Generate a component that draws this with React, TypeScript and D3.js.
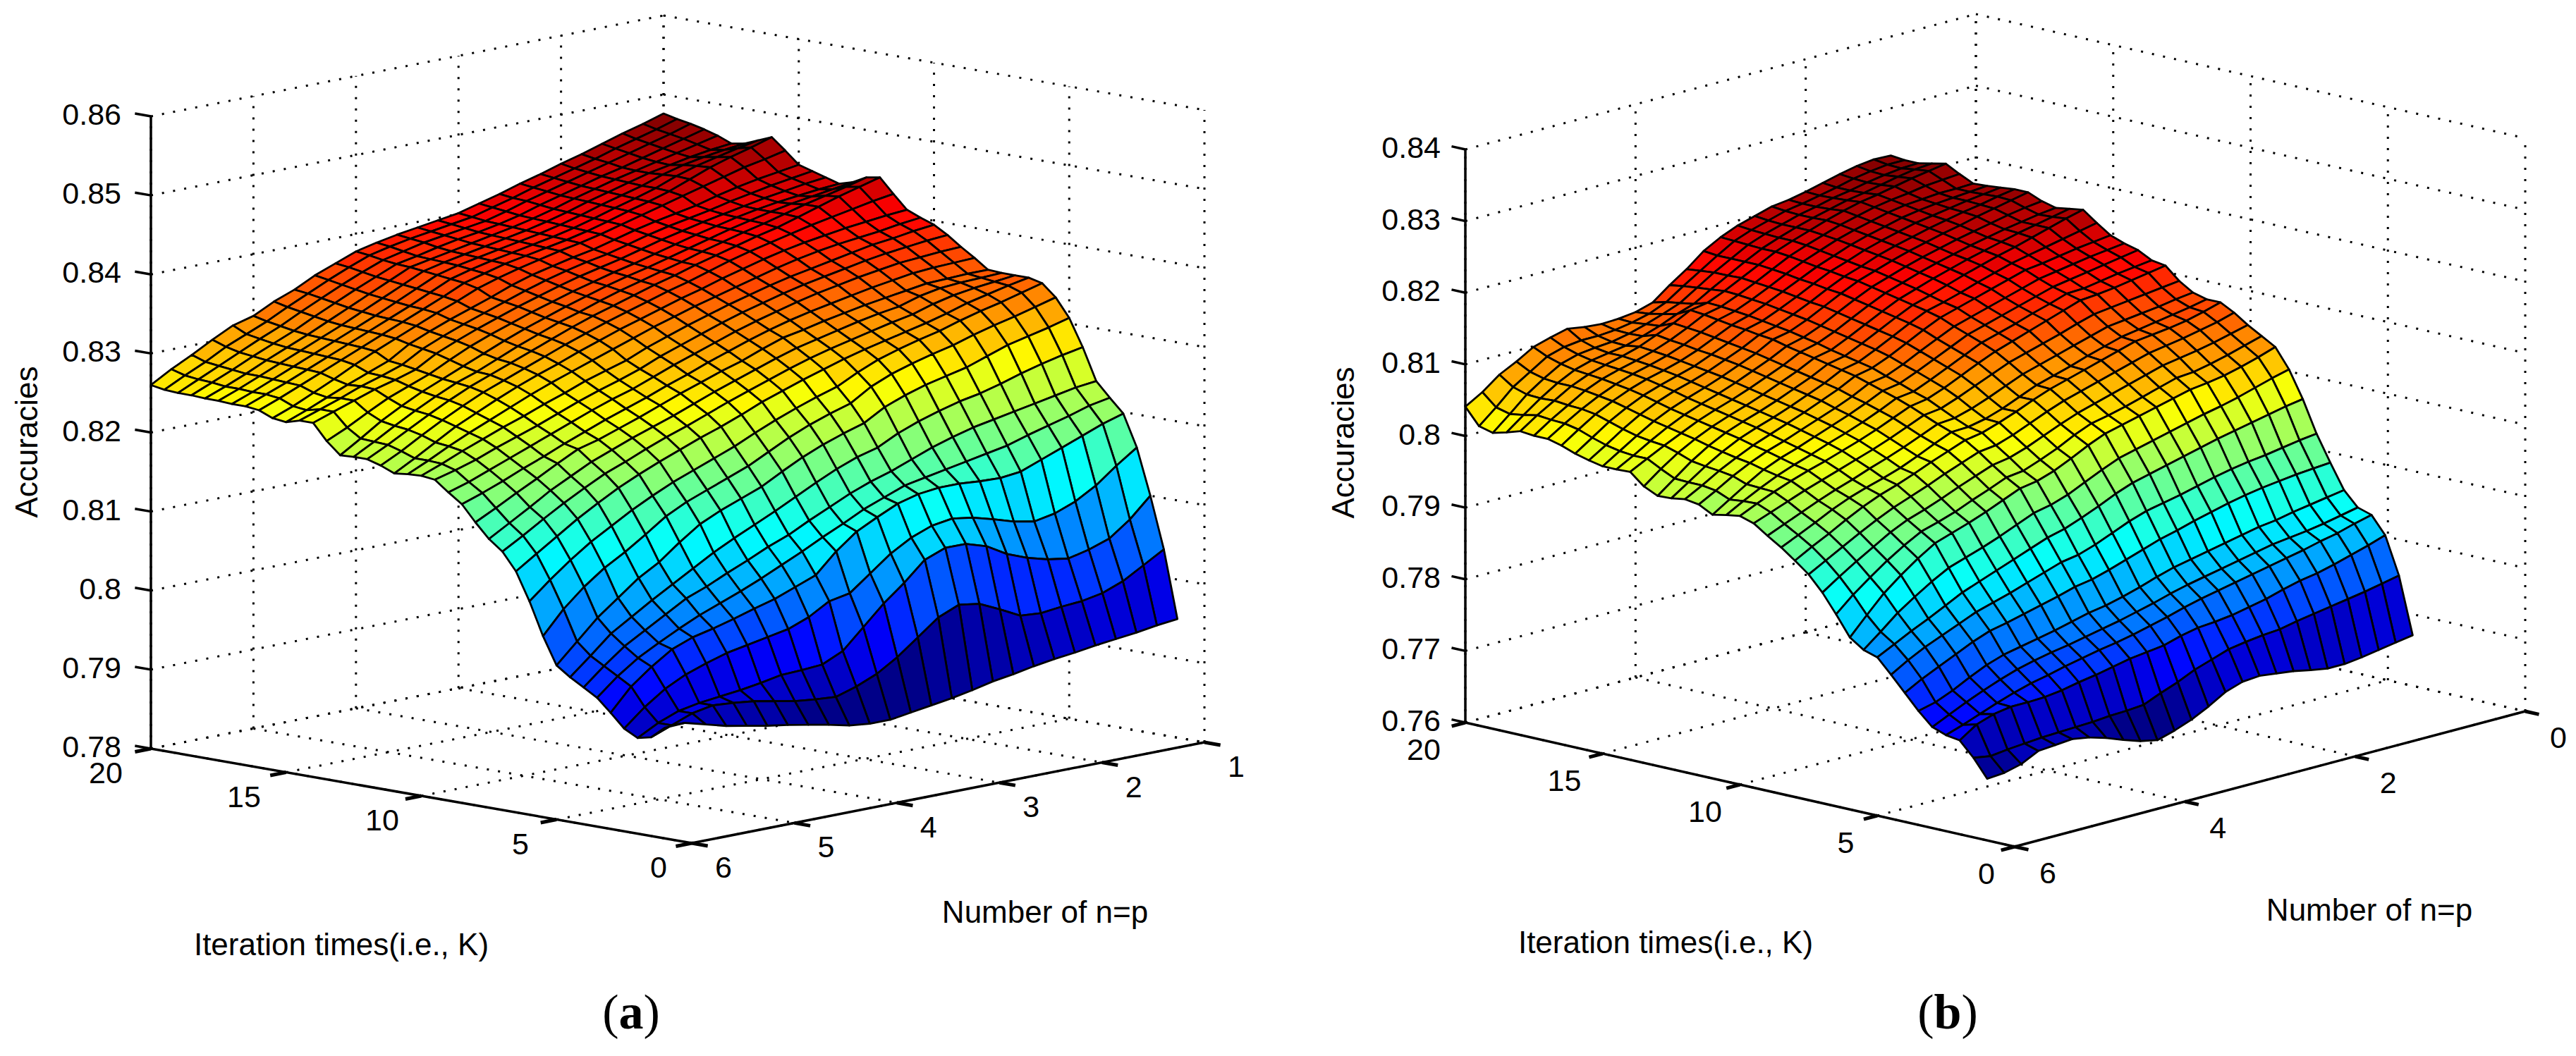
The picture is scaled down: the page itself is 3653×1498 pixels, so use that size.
import React from 'react';
import * as d3 from 'd3';

// rows run K = 20 down to K = 1 in steps of 0.5, columns n = 1 up to n = 6 in steps of 0.2
// values are accuracies x 10000
const accuracyA = [
  [8476,8468,8461,8453,8445,8438,8430,8423,8415,8408,8401,8397,8393,8389,8384,8378,8368,8358,8345,8335,8322,8315,8302,8288,8275,8260],
  [8472,8464,8457,8450,8442,8435,8428,8421,8413,8406,8399,8395,8391,8387,8382,8376,8366,8355,8343,8331,8318,8307,8296,8282,8270,8257],
  [8469,8461,8454,8447,8440,8433,8426,8419,8412,8404,8397,8393,8389,8385,8379,8373,8363,8352,8340,8328,8315,8304,8292,8280,8268,8256],
  [8465,8458,8451,8444,8437,8431,8424,8417,8410,8402,8396,8391,8387,8382,8376,8371,8360,8349,8337,8325,8312,8301,8290,8278,8267,8256],
  [8460,8454,8448,8442,8436,8430,8423,8416,8408,8401,8395,8390,8385,8380,8375,8370,8358,8346,8334,8322,8310,8299,8288,8276,8265,8255],
  [8453,8450,8446,8441,8436,8429,8422,8415,8407,8400,8394,8389,8384,8379,8374,8368,8356,8344,8332,8320,8309,8298,8287,8276,8265,8255],
  [8456,8453,8449,8444,8437,8428,8421,8414,8406,8399,8393,8388,8383,8378,8373,8366,8354,8342,8330,8319,8308,8297,8286,8275,8264,8254],
  [8463,8458,8452,8446,8438,8428,8420,8413,8405,8398,8392,8387,8382,8377,8371,8364,8352,8340,8329,8318,8307,8296,8285,8274,8264,8254],
  [8470,8462,8455,8447,8437,8427,8419,8412,8404,8397,8391,8386,8381,8376,8369,8362,8350,8339,8328,8317,8306,8295,8284,8273,8262,8252],
  [8456,8450,8445,8438,8431,8424,8417,8410,8403,8396,8390,8385,8379,8373,8366,8358,8347,8337,8326,8315,8304,8292,8279,8267,8255,8245],
  [8441,8437,8433,8428,8422,8415,8410,8405,8399,8392,8385,8380,8374,8368,8360,8350,8341,8332,8322,8311,8295,8285,8275,8264,8253,8243],
  [8436,8432,8428,8423,8418,8412,8407,8402,8396,8389,8382,8377,8371,8364,8356,8347,8338,8329,8319,8308,8293,8284,8276,8266,8257,8248],
  [8431,8428,8424,8420,8415,8410,8405,8399,8393,8386,8379,8373,8367,8360,8352,8344,8335,8326,8316,8305,8290,8282,8275,8266,8257,8248],
  [8426,8424,8421,8418,8414,8409,8403,8397,8390,8383,8376,8370,8363,8356,8348,8340,8331,8322,8312,8300,8287,8277,8267,8254,8240,8228],
  [8431,8427,8423,8419,8414,8408,8402,8395,8388,8381,8374,8368,8361,8353,8345,8336,8327,8317,8306,8295,8284,8273,8260,8246,8229,8213],
  [8440,8433,8427,8421,8414,8407,8401,8394,8387,8379,8372,8365,8358,8350,8341,8333,8323,8313,8302,8291,8282,8270,8257,8243,8228,8214],
  [8443,8436,8429,8421,8413,8405,8399,8392,8385,8378,8370,8363,8355,8347,8339,8330,8320,8310,8300,8290,8280,8268,8255,8241,8227,8214],
  [8425,8421,8416,8411,8406,8400,8394,8388,8381,8373,8365,8358,8350,8342,8334,8325,8316,8306,8296,8286,8276,8264,8251,8237,8222,8209],
  [8408,8406,8403,8400,8396,8392,8387,8381,8374,8367,8359,8352,8344,8336,8328,8319,8310,8300,8291,8281,8270,8258,8246,8231,8216,8202],
  [8401,8398,8394,8391,8388,8384,8379,8373,8366,8359,8352,8345,8337,8329,8320,8311,8302,8293,8284,8274,8263,8252,8241,8229,8216,8204],
  [8395,8392,8388,8385,8380,8375,8370,8365,8359,8352,8345,8337,8329,8320,8311,8300,8292,8284,8274,8265,8255,8246,8236,8226,8215,8205],
  [8385,8383,8380,8377,8373,8368,8363,8358,8352,8345,8338,8330,8321,8312,8303,8292,8283,8275,8266,8256,8246,8237,8228,8218,8210,8203],
  [8373,8372,8370,8368,8364,8360,8355,8350,8344,8337,8330,8322,8313,8304,8295,8285,8275,8267,8258,8248,8238,8228,8218,8208,8198,8190],
  [8362,8361,8360,8358,8354,8350,8345,8340,8335,8329,8322,8314,8305,8296,8286,8277,8267,8258,8249,8239,8229,8218,8208,8197,8187,8178],
  [8350,8350,8349,8348,8344,8340,8336,8331,8326,8320,8315,8306,8296,8288,8279,8270,8260,8250,8241,8232,8225,8212,8198,8185,8171,8158],
  [8349,8348,8347,8345,8340,8332,8328,8323,8317,8311,8305,8297,8288,8279,8270,8260,8250,8241,8232,8222,8212,8199,8186,8170,8155,8140],
  [8349,8346,8343,8339,8333,8325,8320,8314,8308,8302,8295,8287,8278,8269,8260,8250,8240,8231,8221,8210,8200,8187,8173,8158,8142,8127],
  [8349,8344,8338,8332,8324,8317,8311,8305,8299,8292,8284,8276,8267,8258,8247,8237,8228,8218,8208,8197,8185,8171,8156,8139,8122,8105],
  [8345,8338,8331,8325,8318,8310,8304,8297,8289,8278,8265,8257,8248,8238,8227,8215,8205,8195,8185,8173,8160,8145,8130,8112,8092,8070],
  [8330,8323,8316,8310,8303,8295,8289,8282,8274,8263,8247,8239,8230,8219,8206,8193,8183,8173,8163,8150,8132,8115,8100,8081,8058,8029],
  [8307,8300,8294,8288,8279,8270,8264,8258,8250,8240,8225,8217,8208,8197,8184,8170,8160,8150,8138,8120,8100,8085,8065,8045,8020,7995],
  [8273,8268,8262,8255,8247,8240,8235,8228,8220,8210,8197,8190,8180,8168,8155,8142,8130,8118,8105,8090,8075,8060,8044,8028,8005,7983],
  [8233,8230,8225,8220,8215,8210,8205,8198,8190,8180,8170,8162,8152,8140,8128,8115,8105,8093,8082,8070,8060,8045,8030,8015,7995,7973],
  [8215,8210,8202,8195,8188,8180,8175,8170,8165,8160,8155,8145,8135,8122,8110,8097,8085,8073,8062,8052,8042,8030,8017,8003,7985,7963],
  [8198,8190,8180,8170,8160,8150,8147,8148,8150,8150,8147,8140,8128,8115,8095,8070,8060,8050,8043,8035,8028,8022,8012,7995,7975,7947],
  [8158,8140,8120,8105,8095,8090,8095,8103,8110,8114,8110,8100,8085,8065,8045,8040,8025,8015,8010,8005,8000,7992,7983,7970,7952,7930],
  [8100,8075,8056,8047,8041,8045,8052,8062,8077,8085,8085,8075,8051,8030,8005,7980,7968,7966,7965,7960,7956,7953,7950,7945,7935,7921],
  [8035,8020,8005,7995,7990,7988,7985,7987,8000,8012,8016,8005,7985,7965,7949,7938,7930,7932,7935,7940,7945,7948,7950,7945,7935,7925],
  [7950,7947,7943,7940,7937,7933,7930,7926,7921,7917,7911,7906,7902,7898,7894,7894,7897,7903,7908,7913,7917,7922,7927,7934,7941,7940],
];

const accuracyB = [
  [8234,8235,8232,8227,8221,8215,8210,8207,8200,8193,8183,8170,8151,8135,8117,8110,8107,8106,8108,8112,8106,8099,8085,8073,8055,8041],
  [8232,8232,8229,8225,8219,8214,8209,8205,8198,8191,8182,8168,8153,8138,8122,8112,8106,8102,8100,8100,8097,8090,8075,8060,8038,8018],
  [8232,8231,8228,8224,8219,8215,8209,8204,8197,8190,8181,8168,8155,8140,8125,8116,8108,8101,8096,8094,8091,8084,8070,8054,8033,8013],
  [8236,8234,8230,8225,8220,8216,8210,8204,8197,8189,8180,8168,8155,8142,8128,8120,8110,8102,8095,8091,8087,8080,8068,8053,8036,8018],
  [8240,8236,8232,8227,8222,8218,8212,8205,8197,8189,8180,8168,8156,8144,8134,8130,8118,8108,8098,8091,8085,8078,8068,8054,8040,8024],
  [8230,8228,8226,8222,8219,8215,8209,8203,8195,8187,8178,8166,8154,8143,8133,8128,8116,8105,8096,8089,8083,8076,8066,8052,8038,8022],
  [8221,8220,8220,8218,8216,8212,8206,8200,8193,8184,8175,8164,8152,8141,8131,8125,8114,8103,8094,8087,8081,8073,8063,8051,8037,8022],
  [8222,8220,8218,8216,8213,8209,8203,8197,8190,8181,8172,8161,8150,8139,8129,8122,8111,8100,8091,8084,8078,8070,8060,8048,8033,8017],
  [8224,8221,8218,8214,8210,8206,8200,8194,8187,8178,8170,8159,8147,8136,8126,8120,8108,8098,8088,8081,8074,8066,8055,8042,8026,8010],
  [8226,8222,8217,8213,8208,8203,8197,8191,8184,8175,8167,8156,8144,8133,8123,8117,8105,8095,8085,8077,8070,8061,8050,8036,8020,8005],
  [8226,8221,8216,8211,8205,8200,8194,8188,8181,8173,8165,8154,8142,8130,8120,8115,8102,8092,8082,8073,8065,8056,8045,8031,8016,8001],
  [8218,8215,8211,8206,8201,8196,8190,8184,8177,8169,8161,8150,8138,8126,8116,8110,8098,8088,8078,8069,8061,8052,8041,8028,8014,8001],
  [8213,8210,8206,8202,8197,8192,8186,8180,8173,8165,8157,8146,8134,8122,8112,8106,8094,8084,8074,8065,8057,8048,8037,8026,8014,8002],
  [8216,8211,8206,8201,8195,8189,8183,8176,8169,8161,8153,8142,8130,8118,8107,8102,8090,8080,8070,8061,8053,8044,8033,8020,8004,7986],
  [8219,8213,8206,8199,8192,8186,8179,8172,8164,8156,8149,8138,8126,8114,8103,8098,8086,8076,8066,8057,8049,8040,8028,8013,7995,7977],
  [8205,8200,8195,8190,8185,8180,8173,8166,8158,8151,8145,8134,8122,8110,8099,8094,8082,8072,8062,8053,8045,8036,8024,8010,7994,7978],
  [8192,8189,8186,8182,8178,8175,8168,8161,8154,8147,8140,8129,8117,8105,8095,8090,8078,8068,8058,8049,8040,8031,8020,8008,7994,7981],
  [8185,8182,8179,8175,8171,8167,8160,8153,8146,8139,8132,8121,8110,8098,8088,8084,8072,8062,8053,8044,8035,8027,8017,8005,7991,7978],
  [8180,8176,8172,8168,8164,8160,8153,8146,8139,8132,8125,8114,8103,8092,8082,8078,8067,8057,8048,8039,8030,8022,8012,7998,7983,7968],
  [8170,8167,8164,8160,8156,8155,8147,8140,8132,8125,8118,8107,8096,8085,8075,8072,8061,8051,8042,8034,8025,8017,8008,7997,7985,7972],
  [8167,8163,8159,8155,8152,8150,8142,8134,8126,8118,8110,8100,8089,8078,8069,8065,8055,8045,8036,8028,8020,8013,8005,7996,7986,7975],
  [8150,8147,8144,8141,8138,8135,8128,8120,8113,8106,8099,8089,8079,8069,8060,8057,8047,8037,8028,8020,8012,8004,7996,7987,7978,7969],
  [8138,8135,8131,8128,8125,8122,8115,8108,8101,8094,8087,8077,8067,8058,8051,8049,8039,8029,8020,8012,8003,7995,7986,7976,7966,7956],
  [8133,8128,8124,8120,8116,8112,8105,8098,8090,8083,8076,8066,8056,8048,8043,8042,8032,8021,8011,8003,7996,7988,7978,7966,7955,7944],
  [8133,8126,8120,8116,8113,8110,8103,8096,8089,8082,8075,8066,8056,8047,8039,8035,8026,8017,8007,7998,7990,7980,7968,7955,7943,7930],
  [8123,8116,8111,8106,8102,8098,8091,8084,8077,8070,8063,8054,8044,8034,8026,8023,8014,8005,7995,7986,7977,7966,7954,7941,7928,7915],
  [8110,8104,8098,8093,8089,8085,8078,8071,8064,8057,8050,8041,8031,8021,8013,8009,8000,7991,7981,7972,7964,7953,7939,7925,7910,7894],
  [8099,8092,8085,8079,8074,8072,8065,8058,8051,8045,8040,8030,8018,8008,7999,7996,7986,7977,7967,7959,7952,7939,7924,7907,7889,7868],
  [8088,8080,8073,8067,8063,8060,8054,8048,8042,8036,8030,8020,8008,7997,7989,7985,7975,7965,7956,7948,7940,7925,7908,7889,7865,7840],
  [8061,8055,8048,8041,8035,8030,8024,8018,8012,8006,8000,7990,7979,7968,7960,7955,7945,7935,7926,7918,7910,7897,7882,7866,7846,7827],
  [8024,8020,8015,8010,8005,8000,7994,7988,7982,7976,7970,7961,7950,7940,7931,7925,7916,7907,7898,7889,7880,7868,7856,7845,7833,7821],
  [7980,7977,7973,7969,7966,7962,7957,7951,7945,7940,7935,7927,7917,7907,7899,7895,7887,7879,7871,7864,7857,7847,7837,7827,7815,7801],
  [7944,7942,7940,7937,7934,7930,7925,7919,7913,7906,7900,7892,7884,7876,7869,7865,7858,7852,7846,7840,7835,7826,7815,7804,7793,7780],
  [7910,7906,7902,7898,7893,7890,7885,7880,7875,7870,7865,7858,7850,7843,7837,7833,7827,7821,7816,7811,7806,7798,7787,7775,7765,7759],
  [7890,7885,7880,7876,7873,7870,7865,7860,7855,7850,7845,7839,7832,7826,7820,7815,7810,7805,7801,7796,7790,7782,7773,7763,7752,7741],
  [7884,7878,7871,7866,7860,7855,7850,7845,7840,7835,7830,7824,7817,7811,7805,7800,7796,7791,7786,7780,7775,7768,7760,7751,7742,7734],
  [7860,7852,7845,7838,7832,7828,7822,7815,7810,7805,7802,7800,7795,7788,7785,7782,7777,7772,7768,7763,7760,7759,7759,7755,7747,7731],
  [7808,7803,7798,7794,7790,7786,7782,7777,7775,7772,7768,7760,7752,7741,7732,7722,7720,7719,7717,7716,7715,7714,7712,7710,7707,7711],
  [7729,7725,7721,7717,7714,7714,7718,7723,7726,7729,7727,7719,7705,7693,7684,7677,7682,7690,7699,7706,7710,7708,7706,7694,7688,7686],
];

const iterTicks = [20, 15, 10, 5, 0];
const zTicksA = [0.78, 0.79, 0.8, 0.81, 0.82, 0.83, 0.84, 0.85, 0.86];
const zTicksB = [0.76, 0.77, 0.78, 0.79, 0.8, 0.81, 0.82, 0.83, 0.84];
const nTicksA = [6, 5, 4, 3, 2, 1];
const nTicksB = [6, 4, 2, 0];

const jetStops = ['#000080', '#0000ff', '#00ffff', '#ffff00', '#ff0000', '#800000'];
const jetDomain = [0, 0.125, 0.375, 0.625, 0.875, 1];

const FONT = '"Liberation Sans", Arial, sans-serif';

const jet = d3.scaleLinear<string>().domain(jetDomain).range(jetStops).interpolate(d3.interpolateRgb);
const jetLevels = d3.range(64).map(i => jet((i + 0.5) / 64));

const Surface = ({ values, zTicks, nTicks, left, front, right, top, labelK, labelN, zLabelX, tickLen }: any) => {
  const [zMin, zMax] = d3.extent(zTicks) as number[];
  const [nMin, nMax] = d3.extent(nTicks) as number[];

  const kx = d3.scaleLinear().domain([20, 0]).range([0, front[0] - left[0]]);
  const ky = d3.scaleLinear().domain([20, 0]).range([0, front[1] - left[1]]);
  const nx = d3.scaleLinear().domain([nMax, nMin]).range([0, right[0] - front[0]]);
  const ny = d3.scaleLinear().domain([nMax, nMin]).range([0, right[1] - front[1]]);
  const zy = d3.scaleLinear().domain([zMin, zMax]).range([0, top - left[1]]);

  const project = (k: number, n: number, z: number): [number, number] => [
    left[0] + kx(k) + nx(n),
    left[1] + ky(k) + ny(n) + zy(z),
  ];
  const line = d3.line();
  const seg = (a: [number, number], b: [number, number]) => line([a, b]) as string;

  const flat: number[] = values.flat();
  const color = d3.scaleQuantize<string>().domain(d3.extent(flat) as [number, number]).range(jetLevels);

  const kGrid = values.map((_: number[], i: number) => 20 - i * 0.5);
  const nGrid = values[0].map((_: number, j: number) => 1 + j * 0.2);

  // back to front so nearer cells cover the ones behind them
  const cells: { d: string; fill: string }[] = [];
  for (let i = 0; i < values.length - 1; i++) {
    for (let j = 0; j < nGrid.length - 1; j++) {
      const pts: [number, number][] = [
        project(kGrid[i], nGrid[j], values[i][j] / 1e4),
        project(kGrid[i], nGrid[j + 1], values[i][j + 1] / 1e4),
        project(kGrid[i + 1], nGrid[j + 1], values[i + 1][j + 1] / 1e4),
        project(kGrid[i + 1], nGrid[j], values[i + 1][j] / 1e4),
      ];
      cells.push({ d: (line(pts) as string) + 'Z', fill: color(values[i + 1][j]) });
    }
  }

  const gridLines: string[] = [];
  zTicks.forEach((z: number) => {
    gridLines.push(seg(project(20, nMax, z), project(20, nMin, z)));
    gridLines.push(seg(project(20, nMin, z), project(0, nMin, z)));
  });
  nTicks.forEach((n: number) => {
    gridLines.push(seg(project(20, n, zMin), project(20, n, zMax)));
    gridLines.push(seg(project(20, n, zMin), project(0, n, zMin)));
  });
  iterTicks.forEach(k => {
    gridLines.push(seg(project(k, nMin, zMin), project(k, nMin, zMax)));
    gridLines.push(seg(project(k, nMax, zMin), project(k, nMin, zMin)));
  });

  // tick directions follow the box edges, pointing away from the plot
  const kLen = Math.hypot(kx(0), ky(0));
  const nLen = Math.hypot(nx(nMin), ny(nMin));
  const kDir = [kx(0) / kLen, ky(0) / kLen];
  const nDir = [nx(nMin) / nLen, ny(nMin) / nLen];

  return (
    <g>
      <g fill="none" stroke="#000" strokeWidth={3} strokeDasharray="3 13">
        {gridLines.map((d, i) => <path key={i} d={d} />)}
      </g>
      <g stroke="#000" strokeWidth={2.8} strokeLinejoin="round">
        {cells.map((c, i) => <path key={i} d={c.d} fill={c.fill} />)}
      </g>
      <g fill="none" stroke="#000" strokeWidth={3.5}>
        <path d={seg(project(20, nMax, zMin), project(20, nMax, zMax))} />
        <path d={seg(project(20, nMax, zMin), project(0, nMax, zMin))} />
        <path d={seg(project(0, nMax, zMin), project(0, nMin, zMin))} />
        {zTicks.map((z: number) => {
          const p = project(20, nMax, z);
          return <path key={z} d={seg(p, [p[0] - kDir[0] * tickLen, p[1] - kDir[1] * tickLen])} />;
        })}
        {iterTicks.map(k => {
          const p = project(k, nMax, zMin);
          return <path key={k} strokeWidth={5} d={seg(p, [p[0] - nDir[0] * tickLen, p[1] - nDir[1] * tickLen])} />;
        })}
        {nTicks.map((n: number) => {
          const p = project(0, n, zMin);
          return <path key={n} strokeWidth={5} d={seg(p, [p[0] + kDir[0] * tickLen, p[1] + kDir[1] * tickLen])} />;
        })}
      </g>
      <g fontFamily={FONT} fontSize={43} fill="#000" dominantBaseline="central">
        {zTicks.map((z: number) => (
          <text key={z} x={zLabelX} y={project(20, nMax, z)[1] - 3} textAnchor="end">{String(z)}</text>
        ))}
        {iterTicks.map(k => {
          const p = project(k, nMax, zMin);
          return <text key={k} x={p[0] + labelK[0] - labelK[2] * (k / 20)} y={p[1] + labelK[1]} textAnchor="middle">{k}</text>;
        })}
        {nTicks.map((n: number) => {
          const p = project(0, n, zMin);
          return <text key={n} x={p[0] + labelN[0]} y={p[1] + labelN[1]} textAnchor="middle">{n}</text>;
        })}
      </g>
    </g>
  );
};

const AxisTitles = ({ acc, iter, num, panel, name }: any) => (
  <g fontFamily={FONT} fontSize={44} fill="#000" dominantBaseline="central" textAnchor="middle">
    <text transform={`translate(${acc[0]},${acc[1]}) rotate(-90)`}>Accuracies</text>
    <text x={iter[0]} y={iter[1]}>Iteration times(i.e., K)</text>
    <text x={num[0]} y={num[1]}>Number of n=p</text>
    <text x={panel[0]} y={panel[1]} fontFamily='"Liberation Serif", serif' fontSize={70}>
      (<tspan fontWeight="bold">{name}</tspan>)
    </text>
  </g>
);

export default function App() {
  return (
    <svg
      width={3653}
      height={1498}
      viewBox="0 0 3653 1498"
      style={{ position: 'absolute', left: 0, top: 0, background: '#fff' }}
    >
      <Surface
        values={accuracyA}
        zTicks={zTicksA}
        nTicks={nTicksA}
        left={[214, 1062]}
        front={[981, 1196]}
        right={[1708, 1053]}
        top={165}
        labelK={[-47, 34, 17]}
        labelN={[45, 34]}
        zLabelX={172}
        tickLen={23}
      />
      <AxisTitles acc={[37, 627]} iter={[484, 1339]} num={[1482, 1293]} panel={[895, 1435]} name="a" />
      <Surface
        values={accuracyB}
        zTicks={zTicksB}
        nTicks={nTicksB}
        left={[2078, 1025]}
        front={[2857, 1201]}
        right={[3581, 1009]}
        top={212}
        labelK={[-40, 38, 19]}
        labelN={[47, 37]}
        zLabelX={2043}
        tickLen={20}
      />
      <AxisTitles acc={[1904, 628]} iter={[2362, 1336]} num={[3360, 1290]} panel={[2762, 1435]} name="b" />
    </svg>
  );
}
